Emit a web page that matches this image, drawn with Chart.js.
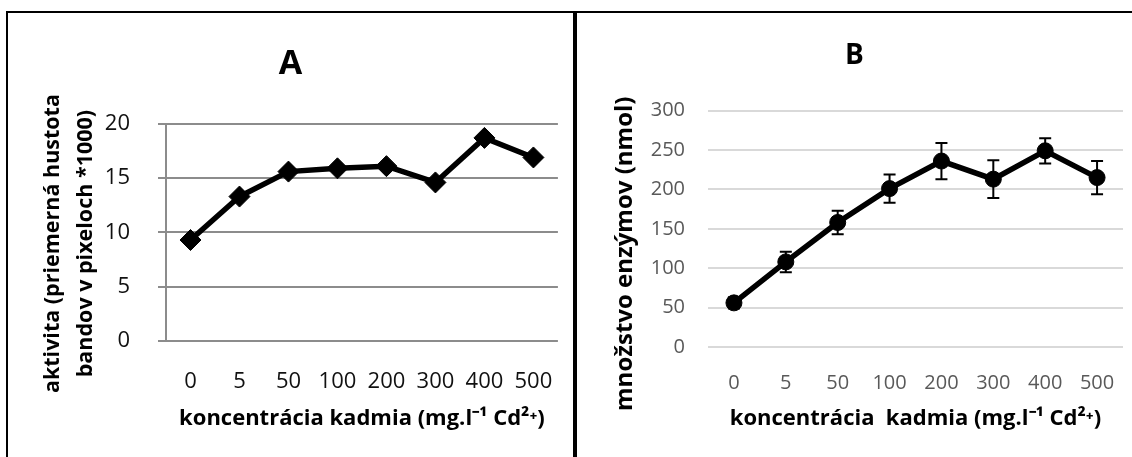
<!DOCTYPE html>
<html>
<head>
<meta charset="utf-8">
<script src="https://cdn.jsdelivr.net/npm/chart.js@4/dist/chart.umd.min.js"></script>
<style>
  body { margin: 0; background: #fff; width: 1132px; height: 457px; overflow: hidden; position: relative; }
  .frame { position: absolute; left: 6px; top: 11px; width: 1126px; height: 446px; border-top: 2px solid #000; border-left: 2px solid #000; }
  .divider { position: absolute; left: 573px; top: 11px; width: 4px; height: 446px; background: #000; }
  .panel { position: absolute; top: 13px; height: 444px; }
  #panelA { left: 8px; width: 565px; }
  #panelB { left: 577px; width: 555px; }
</style>
</head>
<body>
<div class="frame"></div>
<div class="divider"></div>
<div class="panel" id="panelA"><canvas id="chartA"></canvas></div>
<div class="panel" id="panelB"><canvas id="chartB"></canvas></div>
<script>
// data
const doses = ['0', '5', '50', '100', '200', '300', '400', '500'];
const activityA = [9.3, 13.3, 15.6, 15.9, 16.1, 14.6, 18.7, 16.9];
const yTicksA = [0, 5, 10, 15, 20];
const enzymeB = [56, 108, 158, 201, 236, 213, 249, 215];
const enzymeErrB = [7, 13, 15, 18, 23, 24, 16, 21];
const yTicksB = [0, 50, 100, 150, 200, 250, 300];

const FONT = '"Open Sans", sans-serif';

// error bars (B), drawn through the y scale
const errorBars = {
    id: 'errorBars',
    afterDatasetsDraw(chart, args, opts) {
        if (!opts.errors) return;
        const ctx = chart.ctx;
        const y = chart.scales.y;
        const meta = chart.getDatasetMeta(0);
        const vals = chart.data.datasets[0].data;
        ctx.save();
        ctx.strokeStyle = '#000';
        ctx.lineWidth = 2;
        meta.data.forEach((pt, i) => {
            const top = y.getPixelForValue(vals[i] + opts.errors[i]);
            const bot = y.getPixelForValue(vals[i] - opts.errors[i]);
            ctx.beginPath();
            ctx.moveTo(pt.x, top); ctx.lineTo(pt.x, bot);
            ctx.moveTo(pt.x - 6, top); ctx.lineTo(pt.x + 6, top);
            ctx.moveTo(pt.x - 6, bot); ctx.lineTo(pt.x + 6, bot);
            ctx.stroke();
        });
        ctx.restore();
    }
};

// chart A
new Chart(document.getElementById('chartA'), {
    type: 'line',
    data: {
        labels: doses,
        datasets: [{
            data: activityA,
            borderColor: '#000',
            backgroundColor: '#000',
            borderWidth: 5.5,
            pointStyle: 'rectRot',
            pointRadius: 10.5,
            pointBorderWidth: 1,
            tension: 0
        }]
    },
    options: {
        responsive: true,
        maintainAspectRatio: false,
        animation: false,
        layout: { padding: 0 },
        plugins: {
            legend: { display: false },
            tooltip: { enabled: false },
            title: {
                display: true,
                text: 'A',
                color: '#000',
                font: { family: FONT, size: 34, weight: 'bold' },
                padding: { top: 31, bottom: 39 }
            }
        },
        scales: {
            x: {
                offset: true,
                grid: { display: false },
                border: { display: false },
                ticks: { color: '#111', font: { family: FONT, size: 22 }, padding: 20, autoSkip: false, maxRotation: 0 },
                title: {
                    display: true, text: 'koncentrácia kadmia (mg.l⁻¹ Cd²⁺)', color: '#000',
                    font: { family: FONT, size: 22, weight: 'bold' },
                    padding: { top: 0, bottom: 25 }
                },
                afterFit: s => { s.height = 116; }
            },
            y: {
                min: yTicksA[0],
                max: yTicksA[yTicksA.length - 1],
                ticks: { stepSize: yTicksA[1] - yTicksA[0], color: '#111', font: { family: FONT, size: 22 }, padding: 28 },
                grid: { color: '#8c8c8c', lineWidth: 2, tickLength: 8, drawTicks: true },
                border: { display: true, color: '#8c8c8c', width: 2 },
                title: {
                    display: true,
                    // trailing spaces nudge the rotated title down like in the original
                    text: ['aktivita (priemerná hustota    ', 'bandov v pixeloch *1000)    '],
                    color: '#000',
                    font: { family: FONT, size: 21.5, weight: 'bold', lineHeight: 1.55 },
                    padding: { top: 28, bottom: 0 }
                },
                afterFit: s => { s.width = 158; }
            }
        }
    }
});

// chart B
new Chart(document.getElementById('chartB'), {
    type: 'line',
    data: {
        labels: doses,
        datasets: [{
            data: enzymeB,
            borderColor: '#000',
            backgroundColor: '#000',
            borderWidth: 5.5,
            pointStyle: 'circle',
            pointRadius: 8,
            pointBorderWidth: 1,
            tension: 0
        }]
    },
    plugins: [errorBars],
    options: {
        responsive: true,
        maintainAspectRatio: false,
        animation: false,
        layout: { padding: 0 },
        plugins: {
            legend: { display: false },
            tooltip: { enabled: false },
            errorBars: { errors: enzymeErrB },
            title: {
                display: true,
                text: 'B',
                color: '#000',
                font: { family: FONT, size: 28, weight: 'bold' },
                padding: { top: 26, bottom: 38 }
            }
        },
        scales: {
            x: {
                offset: true,
                grid: { display: false },
                border: { display: false },
                ticks: { color: '#595959', font: { family: FONT, size: 20 }, padding: 16, autoSkip: false, maxRotation: 0 },
                title: {
                    display: true, text: 'koncentrácia  kadmia (mg.l⁻¹ Cd²⁺)', color: '#000',
                    font: { family: FONT, size: 22, weight: 'bold' },
                    padding: { top: 0, bottom: 25 }
                },
                afterFit: s => { s.height = 110; }
            },
            y: {
                min: yTicksB[0],
                max: yTicksB[yTicksB.length - 1],
                ticks: { stepSize: yTicksB[1] - yTicksB[0], color: '#595959', font: { family: FONT, size: 20 }, padding: 23 },
                grid: { color: '#d9d9d9', lineWidth: 2, drawTicks: false },
                border: { display: false },
                title: {
                    display: true,
                    text: 'množstvo enzýmov (nmol)        ',
                    color: '#000',
                    font: { family: FONT, size: 24, weight: 'bold' },
                    padding: { top: 34, bottom: 0 }
                },
                afterFit: s => { s.width = 131; }
            }
        }
    }
});
</script>
</body>
</html>
